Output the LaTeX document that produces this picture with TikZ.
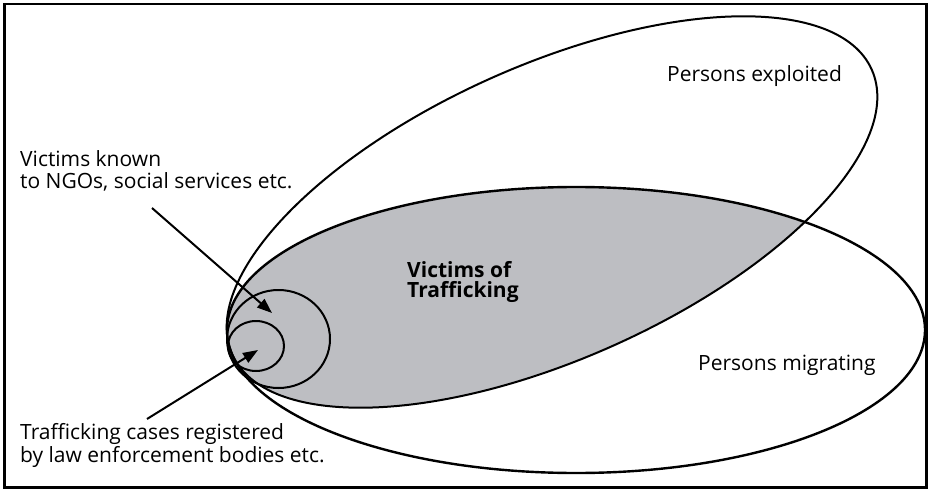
\documentclass[tikz,border=0pt]{standalone}
\usepackage{fontspec}
\setmainfont{Open Sans}
\usetikzlibrary{arrows.meta, shapes.geometric}

\definecolor{victimgrey}{RGB}{189,190,194}

\begin{document}
\begin{tikzpicture}[x=1pt, y=-1pt,
  >={Triangle[length=15pt, width=11pt]},
  oval/.style={draw, line width=2pt},
  ring/.style={draw, ellipse, line width=2pt, inner sep=0pt},
  caption/.style={anchor=base west, align=left, inner sep=0pt,
    font=\fontsize{21}{22}\selectfont},
  pointer/.style={->, line width=2pt}
 ]
 \useasboundingbox (0,0) rectangle (931,489);
 \draw [line width=2.5pt] (4.5,4) rectangle (926.5,487.5);

 % overlap of the two sets
 \begin{scope}
  \clip (576,330) ellipse [x radius=349, y radius=143];
  \fill [victimgrey, rotate around={24:(552,212)}] (552,212) ellipse [x radius=350, y radius=147];
 \end{scope}
 \draw [oval, line width=2.4pt] (576,330) ellipse [x radius=349, y radius=143];
 \draw [oval, rotate around={24:(552,212)}] (552,212) ellipse [x radius=350, y radius=147];

 \node [ring, minimum width=103pt, minimum height=98pt] (known) at (278.5,339) {};
 \node [ring, minimum width=56pt, minimum height=50pt] (reg) at (256,346) {};

 % base of a two-line caption is its last line
 \node [caption] (kv) at (20,189) {Victims known\\to NGOs, social services etc.};
 \node [caption, font=\fontsize{21}{20.5}\selectfont] (tc) at (20,462) {Trafficking cases registered\\by law enforcement bodies etc.};
 \node [caption] (pe) at (667,82) {Persons exploited};
 \node [caption] (pm) at (698,370) {Persons migrating};
 \node [caption, font=\fontsize{21}{20}\selectfont\bfseries] (vt) at (407,297) {Victims of\\Trafficking};

 \coordinate (kvtail) at (152,208);
 \coordinate (kvtip) at (272,313);
 \coordinate (tctail) at (147,419);
 \coordinate (tctip) at (258,350);
 \draw [pointer] (kvtail) -- (kvtip);
 \draw [pointer] (tctail) -- (tctip);
\end{tikzpicture}
\end{document}
